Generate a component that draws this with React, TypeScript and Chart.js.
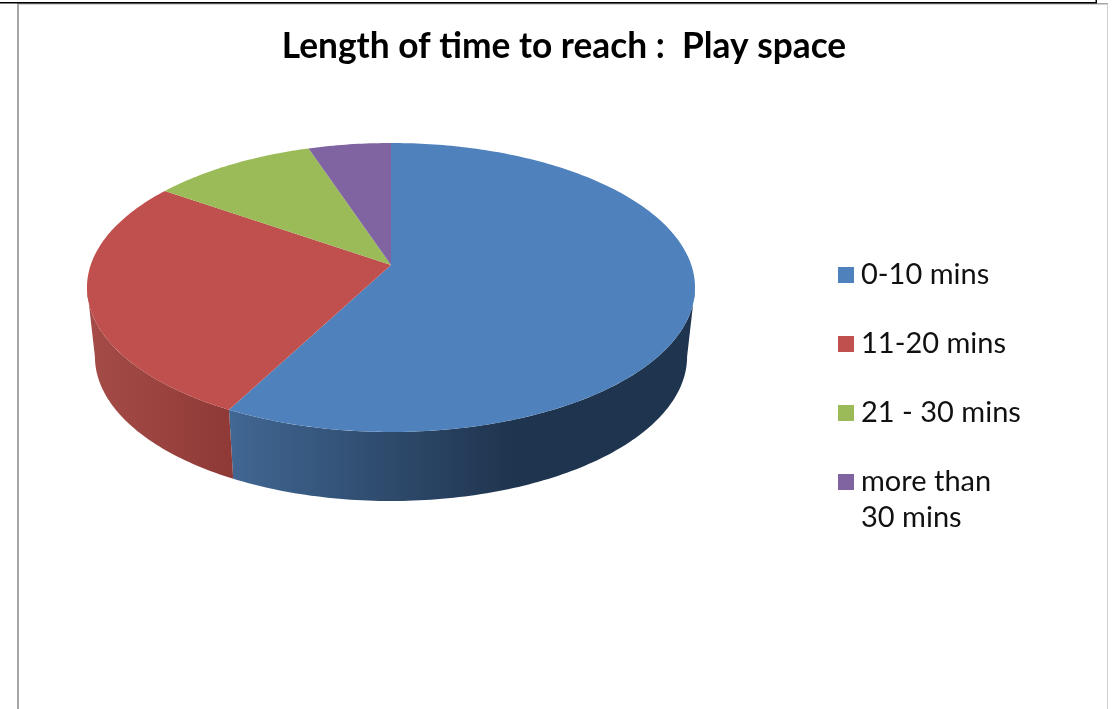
import React, { useEffect, useRef } from "react";
import { Chart, registerables } from "chart.js";

Chart.register(...registerables);

const categories: (string | string[])[] = ["0-10 mins", "11-20 mins", "21 - 30 mins", ["more than", "30 mins"]];
const values = [57.7, 27, 10.2, 5.1];
const topColors = ["#4f81bd", "#c0504d", "#9bbb59", "#8064a2"];
const wallStart = ["#416793", "#a54c48", "#7d9647", "#655082"];
const wallEnd = ["#1f344e", "#8f3a37", "#5c6e34", "#4a3b60"];
const chartTitle = "Length of time to reach :  Play space";
const FONT = "Lato";

// Perspective of the tilted disc
const CX = 391, CY = 265, RX = 300.3, A = 99.73, K = -0.1557;
const DEPTH = 69, SHRINK = 0.974;
const FRONT_FROM = Math.asin(-K), FRONT_TO = Math.PI - FRONT_FROM;
const LEGEND_X = 805.5, LEGEND_Y = 220;
const top3d = (a: number) => {
  const u = Math.cos(a), v = Math.sin(a), w = 1 + K * v;
  return { x: CX + (RX * u) / w, y: (A * v + CY) / w };
};
const bottom3d = (a: number) => {
  const p = top3d(a);
  return { x: CX + (p.x - CX) * SHRINK, y: p.y + DEPTH };
};

const swatch = (color: string) => {
  const cv = document.createElement("canvas");
  cv.width = 16;
  cv.height = 16;
  const x = cv.getContext("2d")!;
  x.fillStyle = color;
  x.fillRect(0, 0, 16, 16);
  return cv;
};

const pie3d = {
  id: "pie3d",
  afterLayout(chart: any) {
    const l = chart.legend;
    const w = l.right - l.left, h = l.bottom - l.top;
    l.left = LEGEND_X;
    l.right = LEGEND_X + w;
    l.top = LEGEND_Y;
    l.bottom = LEGEND_Y + h;
  },
  beforeDraw(chart: any) {
    const c = chart.ctx;
    c.save();
    c.fillStyle = "#fff";
    c.fillRect(0, 0, chart.width, chart.height);
    c.fillStyle = "#a6a6a6";
    c.fillRect(17, 3, 1091, 1.5);
    c.fillRect(17, 3, 2, 706);
    c.fillStyle = "#d0d0d0";
    c.fillRect(1107, 4, 1, 705);
    c.fillStyle = "#000";
    c.fillRect(0, 2, 1097, 1.5);
    c.fillRect(1095.5, 0, 1.5, 3);
    c.restore();
  },
  beforeDatasetDraw(chart: any, args: any) {
    const c = chart.ctx;
    const arcs = args.meta.data;
    c.save();
    arcs.forEach((arc: any, i: number) => {
      const from = Math.max(arc.startAngle, FRONT_FROM);
      const to = Math.min(arc.endAngle, FRONT_TO);
      if (to <= from) return;
      const n = Math.max(8, Math.ceil((to - from) * 60));
      c.beginPath();
      const xs: number[] = [];
      for (let s = 0; s <= n; s++) {
        const p = top3d(from + ((to - from) * s) / n);
        xs.push(p.x);
        s === 0 ? c.moveTo(p.x, p.y) : c.lineTo(p.x, p.y);
      }
      for (let s = n; s >= 0; s--) {
        const p = bottom3d(from + ((to - from) * s) / n);
        c.lineTo(p.x, p.y);
      }
      c.closePath();
      const minX = Math.min(...xs), maxX = Math.max(...xs);
      const g = c.createLinearGradient(minX, 0, i === 0 ? minX + 285 : maxX, 0);
      g.addColorStop(0, wallStart[i]);
      g.addColorStop(1, wallEnd[i]);
      c.fillStyle = g;
      c.fill();
    });
    arcs.forEach((arc: any, i: number) => {
      const { startAngle, endAngle } = arc;
      const n = Math.max(8, Math.ceil((endAngle - startAngle) * 60));
      c.beginPath();
      c.moveTo(CX, CY);
      for (let s = 0; s <= n; s++) {
        const p = top3d(startAngle + ((endAngle - startAngle) * s) / n);
        c.lineTo(p.x, p.y);
      }
      c.closePath();
      c.fillStyle = topColors[i];
      c.fill();
    });
    c.restore();
    return false;
  },
};

export default function App() {
  const ref = useRef<HTMLCanvasElement>(null);
  useEffect(() => {
    const chart = new Chart(ref.current!, {
      type: "pie",
      data: {
        labels: categories as any,
        datasets: [{ data: values, backgroundColor: topColors, borderWidth: 0 }],
      },
      plugins: [pie3d],
      options: {
        responsive: false,
        animation: false,
        events: [],
        layout: { padding: { left: 15, top: 0, right: 0, bottom: 0 } },
        plugins: {
          tooltip: { enabled: false },
          title: {
            display: true,
            text: chartTitle,
            color: "#000",
            font: { family: FONT, size: 35.3, weight: "bold" },
            padding: { top: 25, bottom: 0 },
          },
          legend: {
            display: true,
            position: "right",
            align: "start",
            labels: {
              color: "#111",
              font: { family: FONT, size: 29, lineHeight: 1.24 },
              usePointStyle: true,
              pointStyleWidth: 1,
              boxHeight: 16,
              padding: 40,
              generateLabels(c: any) {
                return Chart.overrides.pie.plugins.legend.labels
                  .generateLabels(c)
                  .map((it: any, i: number) => ({ ...it, pointStyle: swatch(topColors[i]) }));
              },
            },
          },
        },
      },
    } as any);
    return () => chart.destroy();
  }, []);
  return (
    <canvas
      ref={ref}
      width={1113}
      height={709}
      style={{ position: "fixed", left: 0, top: 0, display: "block" }}
    />
  );
}
